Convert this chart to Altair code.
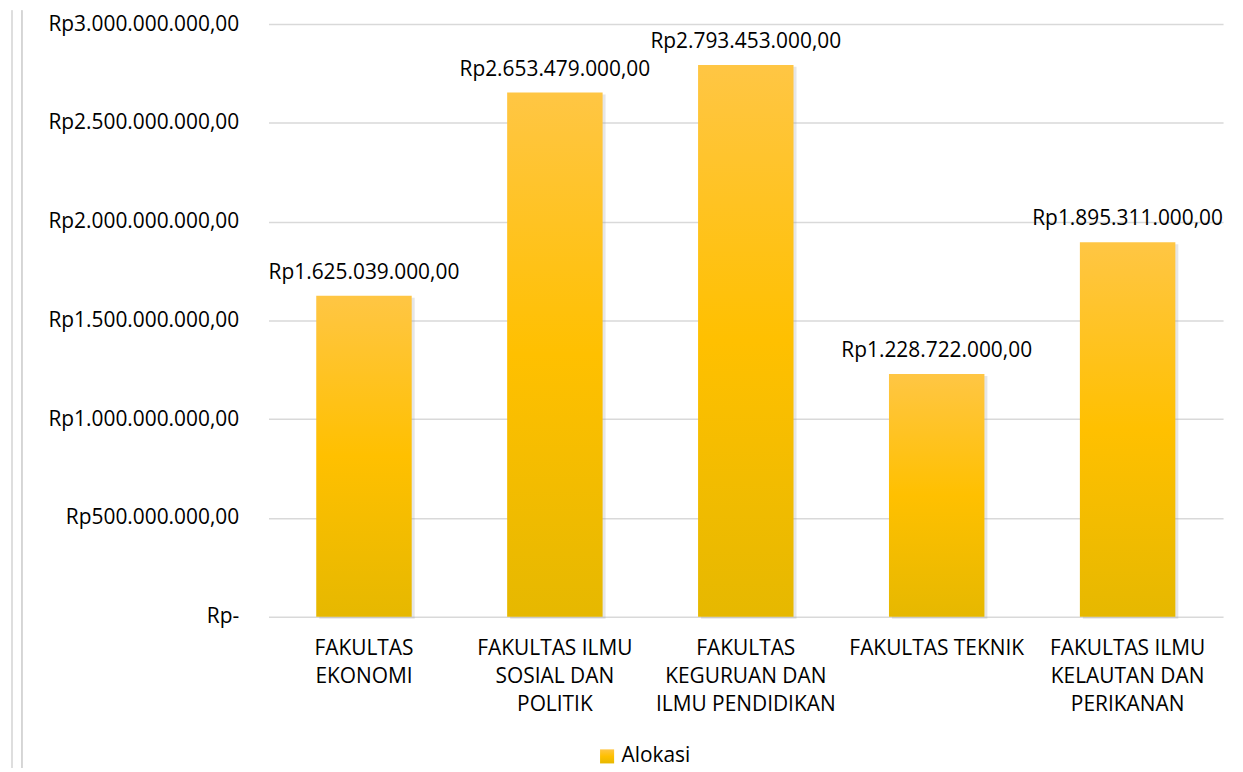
import altair as alt
import pandas as pd

categories = [
    "FAKULTAS\nEKONOMI",
    "FAKULTAS ILMU\nSOSIAL DAN\nPOLITIK",
    "FAKULTAS\nKEGURUAN DAN\nILMU PENDIDIKAN",
    "FAKULTAS TEKNIK",
    "FAKULTAS ILMU\nKELAUTAN DAN\nPERIKANAN",
]
values = [1625039000, 2653479000, 2793453000, 1228722000, 1895311000]
series_name = "Alokasi"
y_ticks = [0, 500000000, 1000000000, 1500000000, 2000000000, 2500000000, 3000000000]


def rupiah(v):
    s = f"{v:,.2f}".replace(",", "#").replace(".", ",").replace("#", ".")
    return "Rp" + s


df = pd.DataFrame({
    "Fakultas": categories,
    "Nilai": values,
    "Label": [rupiah(v) for v in values],
    "Seri": [series_name] * len(values),
})

FONT = "Open Sans"
FS = 21

x_enc = alt.X(
    "Fakultas:N",
    sort=categories,
    scale=alt.Scale(paddingInner=0.5, paddingOuter=0.25),
    axis=alt.Axis(
        title=None, labelAngle=0, ticks=False, domain=False,
        labelPadding=21, labelLineHeight=28, labelFont=FONT, labelFontSize=FS,
        labelColor="#000000", labelAlign="center", labelLimit=300,
        labelExpr="split(datum.label, '\\n')",
    ),
)
y_enc = alt.Y(
    "Nilai:Q",
    scale=alt.Scale(domain=[0, 3000000000], nice=False),
    axis=alt.Axis(
        title=None, values=y_ticks, ticks=False, domain=False,
        labelPadding=30, labelFont=FONT, labelFontSize=FS, labelColor="#000000",
        labelLimit=300,
        labelExpr="datum.value == 0 ? 'Rp-' : format(datum.value, '$,.2f')",
        gridColor="#d9d9d9", gridWidth=1.5,
    ),
)

base = alt.Chart(df)

shadow = base.mark_bar(color="#9a9a9a", opacity=0.25, xOffset=3, yOffset=2).encode(
    x=x_enc, y=y_enc
)

grad = alt.Gradient(
    gradient="linear",
    stops=[
        alt.GradientStop(color="#FFC644", offset=0),
        alt.GradientStop(color="#FFC000", offset=0.5),
        alt.GradientStop(color="#E6B800", offset=1),
    ],
    x1=0, x2=0, y1=0, y2=1,
)

bars = base.mark_bar(color=grad).encode(
    x=x_enc,
    y=y_enc,
    opacity=alt.Opacity(
        "Seri:N",
        scale=alt.Scale(range=[1]),
        legend=alt.Legend(
            title=None, orient="none", legendX=330, legendY=726,
            symbolType="square", symbolSize=200, symbolFillColor="#FFC000",
            symbolStrokeWidth=0, labelFont=FONT, labelFontSize=FS,
            labelColor="#000000", symbolOpacity=1,
        ),
    ),
)

labels = base.mark_text(
    font=FONT, fontSize=FS, color="#000000", baseline="alphabetic", dy=-17
).encode(x=alt.X("Fakultas:N", sort=categories), y="Nilai:Q", text="Label:N")

frame = pd.DataFrame({"fx": [-258, -248]})
frame_lines = alt.Chart(frame).mark_rule(color="#dcdcdc", strokeWidth=1.5).encode(
    x=alt.value(-258), y=alt.value(-14), y2=alt.value(760)
)
frame_lines2 = alt.Chart(frame).mark_rule(color="#d4d4d4", strokeWidth=1.5).encode(
    x=alt.value(-248), y=alt.value(-14), y2=alt.value(760)
)

chart = (
    alt.layer(frame_lines, frame_lines2, shadow, bars, labels)
    .properties(
        width=960, height=596,
        autosize=alt.AutoSizeParams(type="none"),
        padding={"left": 262, "top": 14, "right": 12, "bottom": 150},
    )
    .configure(locale={"number": {"decimal": ",", "thousands": ".", "grouping": [3], "currency": ["Rp", ""]}})
    .configure_view(stroke=None)
)

chart.save("out.html", embed_options={"renderer": "svg", "actions": False})
